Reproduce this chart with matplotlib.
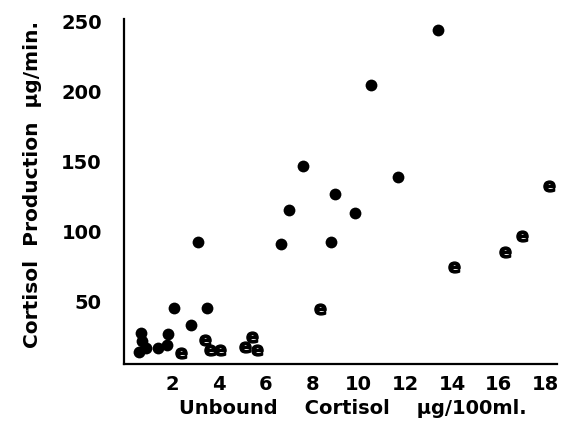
import matplotlib
matplotlib.use("Agg")
import matplotlib.pyplot as plt

# Data (filled dots and "e" markers)
dot_x = [0.69, 0.72, 0.57, 0.89, 1.83, 1.79, 1.40, 2.10, 3.51, 2.81, 3.10,
         13.40, 10.52, 7.60, 11.69, 8.98, 7.02, 9.84, 6.65, 8.81]
dot_y = [27.0, 21.3, 13.4, 16.3, 26.3, 18.4, 16.3, 44.6, 44.6, 33.0, 92.2,
         243.6, 204.1, 146.1, 138.6, 126.3, 114.9, 112.7, 90.6, 91.8]

e_x = [2.37, 3.41, 3.63, 4.06, 5.13, 5.41, 5.63,
       18.16, 16.99, 16.27, 14.09, 8.34]
e_y = [12.7, 22.0, 14.9, 14.9, 16.8, 23.9, 14.9,
       132.2, 96.1, 85.1, 73.9, 44.1]

x_ticks = [2, 4, 6, 8, 10, 12, 14, 16, 18]
y_ticks = [50, 100, 150, 200, 250]

x_label = "Unbound    Cortisol    \u00b5g/100ml."
y_label = "Cortisol  Production  \u00b5g/min."

fig = plt.figure(figsize=(5.64, 4.31), dpi=100)
ax = fig.add_axes([124 / 564, 1 - 365 / 431, (557 - 124) / 564, (365 - 20) / 431])

ax.scatter(dot_x, dot_y, s=8.5 ** 2, color="black", linewidths=0, zorder=3)
ax.plot(e_x, e_y, linestyle="none", marker=r"$\mathbf{e}$", markersize=8,
        color="black", zorder=3)

ax.set_xlim(-0.056, 18.49)
ax.set_ylim(4.86, 251.3)
ax.set_xticks(x_ticks)
ax.set_yticks(y_ticks)
ax.set_xticklabels([str(t) for t in x_ticks], fontsize=14, fontweight="bold")
ax.set_yticklabels([str(t) for t in y_ticks], fontsize=14, fontweight="bold")
ax.tick_params(axis="x", length=0, pad=7)
ax.tick_params(axis="y", length=0, pad=16)

for side in ["top", "right"]:
    ax.spines[side].set_visible(False)
for side in ["left", "bottom"]:
    ax.spines[side].set_linewidth(1.6)
    ax.spines[side].set_color("black")

ax.set_xlabel(x_label, fontsize=14, fontweight="bold")
ax.set_ylabel(y_label, fontsize=14.5, fontweight="bold")
ax.xaxis.set_label_coords(0.529, -0.1)
ax.yaxis.set_label_coords(-0.19, 0.522)

fig.savefig("out.png", dpi=100)
